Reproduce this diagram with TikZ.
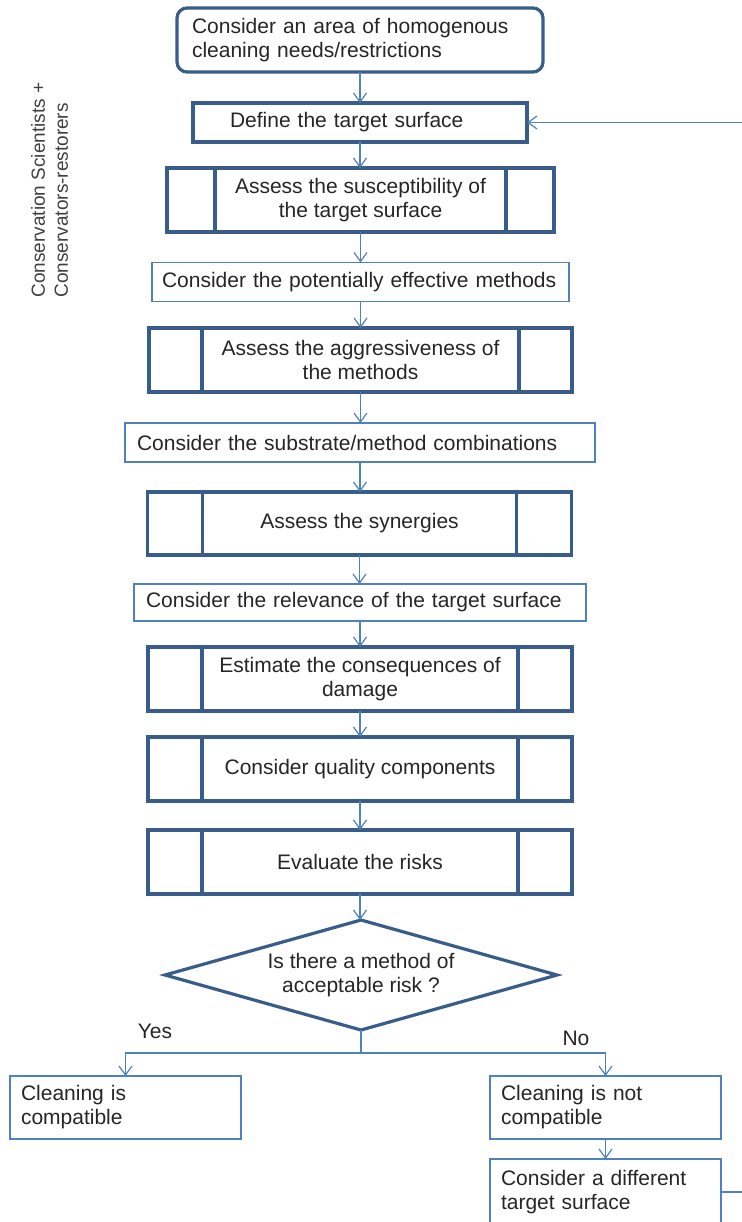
\documentclass[tikz,border=0pt]{standalone}
\usepackage{fontspec}
\setmainfont{Liberation Sans}
\usetikzlibrary{arrows.meta,shapes.geometric}
\definecolor{edgedark}{HTML}{385D8A}
\definecolor{edgelight}{HTML}{4F81BD}
\definecolor{ink}{HTML}{262626}
\definecolor{sideink}{HTML}{404040}

\begin{document}
\begin{tikzpicture}[x=0.5pt,y=-0.5pt,
  base/.style={rectangle, inner sep=0pt, outer sep=0pt, text=ink, fill=white,
    font=\fontsize{10.5}{12}\selectfont},
  heavy/.style={base, draw=edgedark, line width=1.6pt},
  light/.style={base, draw=edgelight, line width=0.6pt},
  procline/.style={draw=edgedark, line width=1.6pt},
  arr/.style={draw=edgelight, line width=0.6pt, -{Straight Barb[length=4.5pt,width=6.5pt]}},
  link/.style={draw=edgelight, line width=0.6pt},
  lbl/.style={text=ink, inner sep=0pt, font=\fontsize{10.5}{12}\selectfont}
]
\fill[white] (0,0) rectangle (742,1222);
\useasboundingbox (0,0) rectangle (742,1222);

% side caption
\node[rotate=90, align=left, text=sideink, inner sep=0pt,
      font=\fontsize{9.5}{11.5}\selectfont] (side) at (49.5,190)
  {Conservation Scientists +\\Conservators-restorers};

% main chain
\node[heavy, rounded corners=5pt, minimum width=183pt, minimum height=32pt,
      text width=168pt, align=left] (start) at (360,40)
  {Consider an area of homogenous\\cleaning needs/restrictions};
\node[heavy, minimum width=167pt, minimum height=19.5pt, text width=130pt, align=left]
  (define) at (360,122.5) {Define the target surface};
\node[heavy, minimum width=193.5pt, minimum height=32pt, align=center]
  (suscept) at (360.5,200) {Assess the susceptibility of\\the target surface};
\node[light, minimum width=208.5pt, minimum height=19.5pt, text width=198.5pt, align=left]
  (methods) at (360.5,282) {Consider the potentially effective methods};
\node[heavy, minimum width=211.5pt, minimum height=32pt, align=center]
  (aggress) at (360.5,360) {Assess the aggressiveness of\\the methods};
\node[light, minimum width=235pt, minimum height=19.5pt, text width=223pt, align=left]
  (combos) at (360,442.5) {Consider the substrate/method combinations};
\node[heavy, minimum width=212pt, minimum height=31.5pt, align=center]
  (synergy) at (359.5,523.5) {Assess the synergies};
\node[light, minimum width=226pt, minimum height=18.5pt, text width=214pt, align=left]
  (relevance) at (360,602.5) {Consider the relevance of the target surface};
\node[heavy, minimum width=212pt, minimum height=32pt, align=center]
  (damage) at (360,679) {Estimate the consequences of\\damage};
\node[heavy, minimum width=212pt, minimum height=32pt, align=center]
  (quality) at (360,769) {Consider quality components};
\node[heavy, minimum width=212pt, minimum height=32pt, align=center]
  (risks) at (360,862) {Evaluate the risks};
\node[heavy, diamond, shape aspect=3.56, minimum width=196pt, minimum height=55pt,
      align=center] (dec) at (361,975) {Is there a method of\\acceptable risk ?};

% outcomes
\node[light, minimum width=115.5pt, minimum height=31.5pt, text width=104.5pt, align=left]
  (yes) at (125.5,1107.5) {Cleaning is\\compatible};
\node[light, minimum width=115.5pt, minimum height=31.5pt, text width=104.5pt, align=left]
  (no) at (605.5,1107.5) {Cleaning is not\\compatible};
\node[light, minimum width=115.5pt, minimum height=33pt, text width=104.5pt, align=left]
  (diff) at (605.5,1192) {Consider a different\\target surface};

\node[lbl] (yeslbl) at (155,1031) {Yes};
\node[lbl] (nolbl) at (576,1038) {No};

% inner bars of the predefined-process boxes
\foreach \n/\d in {suscept/24pt, aggress/26.5pt, synergy/27.5pt, damage/27pt,
                   quality/27pt, risks/27pt}{
  \draw[procline] ([xshift=\d]\n.north west) -- ([xshift=\d]\n.south west);
  \draw[procline] ([xshift=-\d]\n.north east) -- ([xshift=-\d]\n.south east);
}

% connectors
\foreach \a/\b in {start/define, define/suscept, suscept/methods, methods/aggress,
                   aggress/combos, combos/synergy, synergy/relevance,
                   relevance/damage, damage/quality, quality/risks, risks/dec}{
  \draw[arr] (\a.south) -- (\a.south |- \b.north);
}
\coordinate (fork) at (361,1053);
\draw[link] (dec.south) -- (fork);
\draw[arr] (fork) -| (yes.north);
\draw[arr] (fork) -| (no.north);
\draw[arr] (no.south) -- (no.south |- diff.north);

% loop back to the target surface definition
\coordinate (loopx) at (760,0);
\draw[arr] (diff.east) -- (diff.east -| loopx) -- (define.east -| loopx) -- (define.east);
\end{tikzpicture}
\end{document}
